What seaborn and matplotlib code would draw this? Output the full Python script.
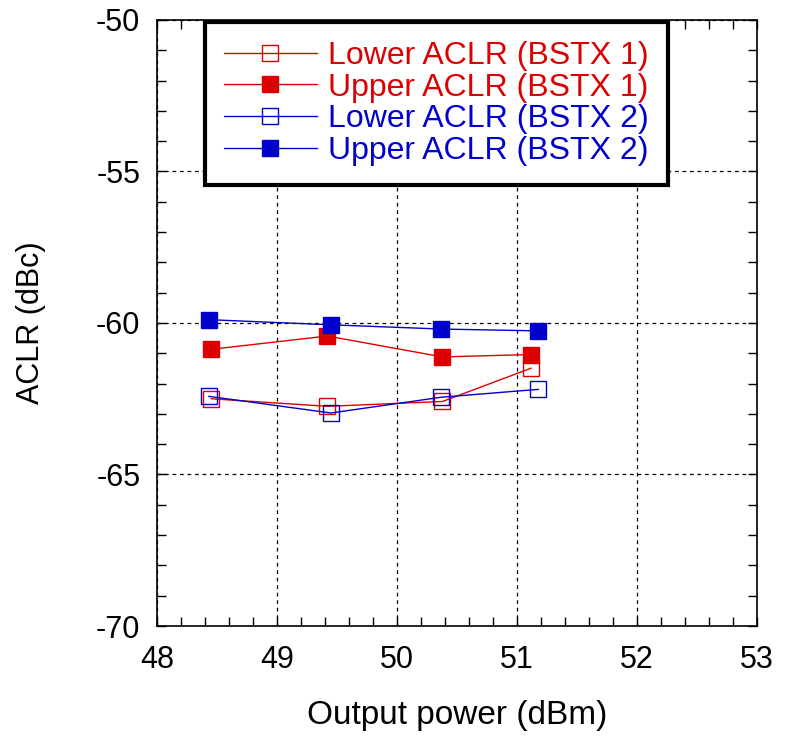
import matplotlib
matplotlib.use('Agg')
import matplotlib.pyplot as plt
import seaborn as sns
from matplotlib.ticker import MultipleLocator

sns.set_style('ticks')
plt.rcParams['font.family'] = ['Liberation Sans', 'DejaVu Sans']
plt.rcParams['axes.unicode_minus'] = False
plt.rcParams['text.color'] = 'black'
plt.rcParams['axes.labelcolor'] = 'black'
plt.rcParams['xtick.color'] = 'black'
plt.rcParams['ytick.color'] = 'black'

# data
x_bstx1 = [48.45, 49.42, 50.38, 51.12]
x_bstx2 = [48.43, 49.45, 50.37, 51.18]
lower_bstx1 = [-62.50, -62.75, -62.59, -61.49]
upper_bstx1 = [-60.87, -60.43, -61.12, -61.04]
lower_bstx2 = [-62.42, -62.97, -62.45, -62.19]
upper_bstx2 = [-59.89, -60.06, -60.20, -60.26]
labels = ['Lower ACLR (BSTX 1)', 'Upper ACLR (BSTX 1)',
          'Lower ACLR (BSTX 2)', 'Upper ACLR (BSTX 2)']

red = '#DD0000'
blue = '#0000CC'

fig = plt.figure(figsize=(7.85, 7.37), dpi=100)
ax = fig.add_axes([0.2, 0.1506, 0.764, 0.8223])

series = [
    (x_bstx1, lower_bstx1, red, 'none'),
    (x_bstx1, upper_bstx1, red, red),
    (x_bstx2, lower_bstx2, blue, 'none'),
    (x_bstx2, upper_bstx2, blue, blue),
]
for (xs, ys, col, face), lab in zip(series, labels):
    sns.lineplot(x=xs, y=ys, ax=ax, color=col, marker='s', markersize=11.5,
                 markerfacecolor=face, markeredgecolor=col, markeredgewidth=1,
                 linewidth=1, sort=False, label=lab)

ax.set_xlim(48, 53)
ax.set_ylim(-70, -50)
ax.xaxis.set_major_locator(MultipleLocator(1))
ax.xaxis.set_minor_locator(MultipleLocator(0.2))
ax.yaxis.set_major_locator(MultipleLocator(5))
ax.yaxis.set_minor_locator(MultipleLocator(1))
ax.tick_params(which='both', direction='in', top=True, right=True,
               width=1, color='black')
ax.tick_params(which='major', length=6.5, labelsize=22)
ax.tick_params(axis='x', which='major', pad=14)
ax.tick_params(axis='y', which='major', pad=12)
ax.tick_params(which='minor', length=6.5)
ax.grid(True, which='major', color='black', linestyle=(0, (3, 3)), linewidth=0.9)
for sp in ax.spines.values():
    sp.set_color('black')
    sp.set_linewidth(1.2)

ax.set_xlabel('Output power (dBm)', fontsize=24, labelpad=18)
ax.set_ylabel('ACLR (dBc)', fontsize=22, labelpad=36)

# legend with coloured texts and a thick black frame
leg = ax.legend(loc='upper left', bbox_to_anchor=(0.08, 0.997), borderaxespad=0,
                fontsize=23, handlelength=2.9, handletextpad=0.35,
                labelspacing=0.05, borderpad=0.6, fancybox=False,
                framealpha=1, edgecolor='black')
leg.get_frame().set_linewidth(3)
for txt, col in zip(leg.get_texts(), [red, red, blue, blue]):
    txt.set_color(col)

fig.savefig('out.png', dpi=100)
